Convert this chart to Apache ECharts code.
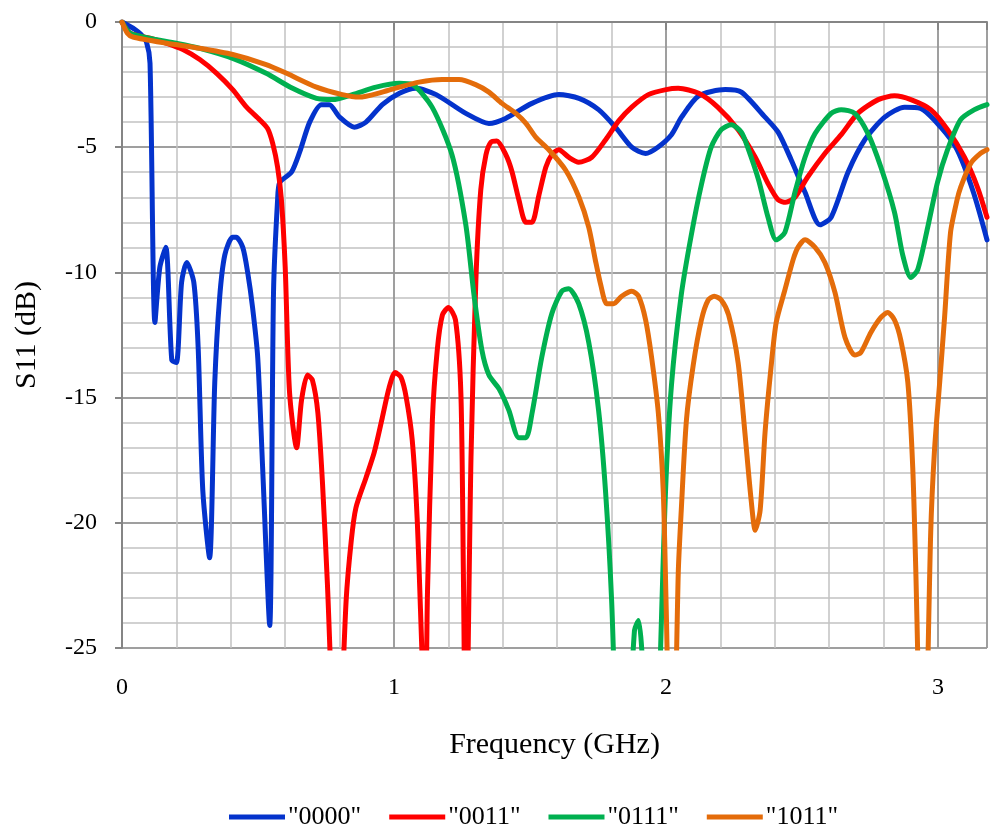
<!DOCTYPE html>
<html>
<head>
<meta charset="utf-8">
<script src="https://cdn.jsdelivr.net/npm/echarts@6/dist/echarts.min.js"></script>
<style>
html,body{margin:0;padding:0;background:#fff;}
#chart{width:990px;height:829px;}
</style>
</head>
<body>
<div id="chart"></div>
<script>
// ---- Data (frequency in GHz, S11 in dB) ----
const seriesNames = ['"0000"', '"0011"', '"0111"', '"1011"'];
const xTickLabels = ['0', '1', '2', '3'];
const yTickLabels = ['0', '-5', '-10', '-15', '-20', '-25'];

const freq0000 = [0,0.048,0.07,0.09,0.103,0.121,0.139,0.161,0.183,0.2,0.219,0.238,0.264,0.28,0.297,0.322,0.341,0.359,0.378,0.406,0.42,0.444,0.462,0.48,0.499,0.517,0.543,0.557,0.572,0.58,0.623,0.653,0.69,0.733,0.762,0.8,0.854,0.897,0.957,1.02,1.08,1.155,1.264,1.349,1.41,1.507,1.606,1.68,1.752,1.814,1.874,1.925,1.97,2.02,2.057,2.12,2.218,2.277,2.364,2.412,2.46,2.511,2.566,2.607,2.669,2.731,2.804,2.877,2.936,3.01,3.07,3.13,3.18];
const s0000 = [0,-0.3,-0.5,-0.8,-1.65,-12.0,-9.8,-9.0,-13.5,-13.6,-10.4,-9.6,-10.4,-13.0,-18.7,-21.4,-14.4,-11.0,-9.3,-8.6,-8.6,-9.0,-10.0,-11.4,-13.4,-17.8,-24.1,-10.8,-7.1,-6.4,-6.0,-5.2,-4.0,-3.3,-3.3,-3.8,-4.2,-4.0,-3.3,-2.85,-2.65,-2.9,-3.65,-4.05,-3.85,-3.25,-2.9,-3.05,-3.5,-4.2,-5.0,-5.25,-5.0,-4.5,-3.8,-2.95,-2.7,-2.8,-3.8,-4.4,-5.5,-6.8,-8.1,-7.8,-6.0,-4.7,-3.8,-3.4,-3.45,-4.2,-5.1,-6.8,-8.7];

const freq0011 = [0,0.03,0.103,0.165,0.224,0.286,0.348,0.407,0.458,0.506,0.535,0.554,0.572,0.586,0.6,0.616,0.642,0.66,0.682,0.7,0.72,0.737,0.755,0.79,0.824,0.843,0.86,0.897,0.927,0.957,0.982,1.004,1.026,1.045,1.067,1.085,1.115,1.123,1.141,1.159,1.178,1.2,1.226,1.246,1.255,1.264,1.283,1.301,1.319,1.338,1.356,1.378,1.411,1.433,1.459,1.485,1.507,1.532,1.558,1.58,1.606,1.642,1.679,1.727,1.778,1.826,1.874,1.935,2.0,2.045,2.12,2.19,2.265,2.328,2.375,2.412,2.44,2.474,2.52,2.584,2.644,2.705,2.78,2.84,2.9,2.973,3.035,3.097,3.145,3.18];
const s0011 = [0,-0.45,-0.65,-0.85,-1.1,-1.5,-2.05,-2.7,-3.4,-3.9,-4.25,-4.85,-5.8,-7.1,-9.8,-14.8,-17.0,-15.1,-14.1,-14.3,-15.6,-18.4,-22.4,-31,-23.1,-20.7,-19.4,-18.2,-17.2,-15.8,-14.6,-14.0,-14.2,-15.0,-16.7,-19.8,-28,-22.8,-15.9,-13.1,-11.7,-11.4,-11.9,-14.9,-22,-30,-17.4,-10.3,-6.7,-5.3,-4.8,-4.75,-5.3,-5.95,-7.1,-8.0,-8.0,-6.95,-5.8,-5.3,-5.1,-5.4,-5.6,-5.4,-4.7,-3.95,-3.4,-2.9,-2.7,-2.65,-2.85,-3.4,-4.3,-5.4,-6.45,-7.1,-7.2,-7.0,-6.2,-5.25,-4.5,-3.65,-3.1,-2.95,-3.1,-3.5,-4.3,-5.4,-6.6,-7.8];

const freq0111 = [0,0.03,0.1,0.2,0.286,0.407,0.53,0.627,0.715,0.774,0.847,0.934,1.019,1.067,1.14,1.213,1.264,1.294,1.323,1.349,1.386,1.422,1.459,1.485,1.507,1.543,1.58,1.617,1.642,1.679,1.716,1.752,1.778,1.8,1.835,1.884,1.899,1.913,1.945,1.998,2.02,2.056,2.093,2.13,2.166,2.203,2.24,2.277,2.3,2.34,2.375,2.405,2.437,2.474,2.511,2.548,2.607,2.644,2.694,2.742,2.79,2.84,2.87,2.9,2.925,2.962,2.998,3.035,3.083,3.134,3.18];
const s0111 = [0,-0.45,-0.65,-0.85,-1.05,-1.45,-2.05,-2.65,-3.05,-3.1,-2.9,-2.6,-2.45,-2.5,-3.4,-5.3,-8.1,-10.9,-13.1,-14.1,-14.65,-15.5,-16.6,-16.6,-15.65,-13.4,-11.65,-10.75,-10.65,-11.25,-12.8,-15.5,-18.8,-23.1,-33,-24.3,-23.9,-25.5,-35,-18.8,-14.5,-10.9,-8.5,-6.5,-5.0,-4.3,-4.1,-4.4,-5.0,-6.3,-7.8,-8.7,-8.4,-6.8,-5.4,-4.45,-3.65,-3.5,-3.65,-4.45,-5.8,-7.6,-9.3,-10.2,-9.9,-8.2,-6.4,-5.1,-3.9,-3.5,-3.3];

const freq1011 = [0,0.02,0.04,0.165,0.286,0.407,0.53,0.605,0.715,0.81,0.872,0.957,1.02,1.092,1.177,1.239,1.3,1.349,1.397,1.448,1.485,1.521,1.569,1.63,1.68,1.716,1.74,1.76,1.782,1.807,1.837,1.874,1.899,1.925,1.947,1.972,1.99,2.0,2.022,2.045,2.056,2.075,2.1,2.13,2.155,2.177,2.203,2.23,2.265,2.29,2.313,2.328,2.346,2.364,2.386,2.405,2.437,2.467,2.485,2.511,2.548,2.584,2.621,2.658,2.694,2.716,2.753,2.79,2.815,2.84,2.863,2.889,2.907,2.918,2.945,2.973,2.987,3.006,3.024,3.046,3.07,3.083,3.12,3.156,3.18];
const s1011 = [0,-0.45,-0.6,-0.85,-1.05,-1.3,-1.7,-2.05,-2.6,-2.9,-3.0,-2.8,-2.6,-2.4,-2.3,-2.3,-2.5,-2.8,-3.25,-3.65,-4.05,-4.6,-5.1,-5.9,-7.0,-8.2,-9.5,-10.5,-11.25,-11.25,-10.95,-10.75,-10.95,-11.9,-13.4,-15.65,-18.8,-23.1,-33,-22,-19.5,-15.9,-13.7,-11.9,-11.1,-10.95,-11.1,-11.7,-13.6,-16.4,-19.1,-20.3,-19.5,-16.4,-13.8,-12.0,-10.7,-9.5,-9.0,-8.7,-9.0,-9.6,-10.8,-12.6,-13.3,-13.2,-12.4,-11.8,-11.6,-11.9,-12.7,-14.4,-17.8,-21.8,-33,-20.4,-17.1,-14.4,-11.8,-8.4,-7.1,-6.6,-5.65,-5.25,-5.1];

const colors = ['#0433CC', '#FF0000', '#00B050', '#E46C0A'];
// ---- End data ----

const FONT = 'Liberation Serif';
function zip(xs, ys) { return xs.map((x, i) => [x, ys[i]]); }
const allX = [freq0000, freq0011, freq0111, freq1011];
const allY = [s0000, s0011, s0111, s1011];

const chart = echarts.init(document.getElementById('chart'), null, {renderer: 'canvas'});
const XMAX = 3.18;

const option = {
  backgroundColor: '#ffffff',
  animation: false,
  grid: {left: 122, right: 0, top: 22, bottom: 181, containLabel: false},
  xAxis: [
    {
      type: 'value', min: 0, max: XMAX, interval: 0.2, position: 'top',
      axisLine: {show: false}, axisTick: {show: false}, axisLabel: {show: false},
      splitLine: {show: true, lineStyle: {color: '#C2C2C2', width: 1.5}}
    },
    {
      type: 'value', min: 0, max: XMAX, interval: 1, position: 'bottom',
      axisLine: {show: true, lineStyle: {color: '#858585', width: 2}},
      axisTick: {show: true, inside: false, length: 8, lineStyle: {color: '#858585', width: 2}},
      axisLabel: {
        show: true, color: '#000', fontFamily: FONT, fontSize: 24, margin: 28,
        formatter: function (v) {
          const r = Math.round(v);
          return Math.abs(v - r) < 1e-6 && xTickLabels.indexOf(String(r)) >= 0 ? String(r) : '';
        }
      },
      splitLine: {show: true, lineStyle: {color: '#8E8E8E', width: 1.5}},
      name: 'Frequency (GHz)', nameLocation: 'middle', nameGap: 82,
      nameTextStyle: {color: '#000', fontFamily: FONT, fontSize: 30}
    }
  ],
  yAxis: [
    {
      type: 'value', min: -25, max: 0, interval: 1, position: 'right',
      axisLine: {show: false}, axisTick: {show: false}, axisLabel: {show: false},
      splitLine: {show: true, lineStyle: {color: '#C2C2C2', width: 1.5}}
    },
    {
      type: 'value', min: -25, max: 0, interval: 5, position: 'left',
      axisLine: {show: true, onZero: false, lineStyle: {color: '#858585', width: 2}},
      axisTick: {show: true, inside: false, length: 7, lineStyle: {color: '#858585', width: 2}},
      axisLabel: {
        show: true, color: '#000', fontFamily: FONT, fontSize: 24, margin: 25,
        formatter: function (v) {
          const s = String(Math.round(v));
          return yTickLabels.indexOf(s) >= 0 ? s : '';
        }
      },
      splitLine: {show: true, lineStyle: {color: '#8E8E8E', width: 1.5}},
      name: 'S11 (dB)', nameLocation: 'middle', nameGap: 80, nameRotate: 90,
      nameTextStyle: {color: '#000', fontFamily: FONT, fontSize: 30}
    }
  ],
  legend: {
    show: true, left: 224, top: 799, orient: 'horizontal',
    itemWidth: 56, itemHeight: 14, itemGap: 28,
    textStyle: {color: '#000', fontFamily: FONT, fontSize: 26, padding: [0, 0, 0, -2]},
    data: seriesNames.map((n, i) => ({name: n, icon: 'path://M0,0 L56,0 L56,5 L0,5 Z', itemStyle: {color: colors[i]}}))
  },
  series: seriesNames.map((n, i) => ({
    name: n, type: 'line', xAxisIndex: 1, yAxisIndex: 1,
    data: zip(allX[i], allY[i]),
    showSymbol: false, symbol: 'none',
    smooth: 0.25,
    clip: true,
    itemStyle: {color: colors[i]},
    lineStyle: {color: colors[i], width: 5, cap: 'round', join: 'round'},
    z: 10 + i
  }))
};
chart.setOption(option);
</script>
</body>
</html>
